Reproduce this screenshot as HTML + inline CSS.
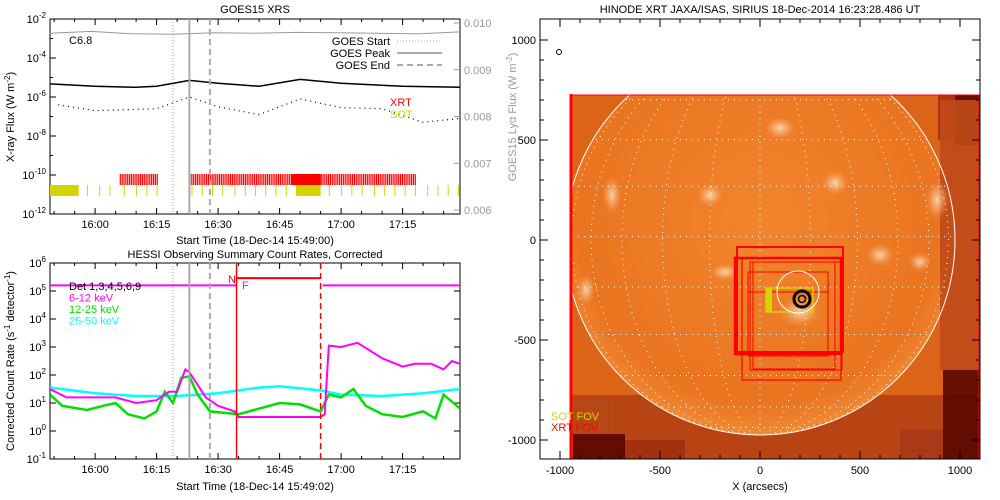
<!DOCTYPE html>
<html><head><meta charset="utf-8"><style>
body{margin:0;background:#fff;}
svg{display:block;font-family:"Liberation Sans",sans-serif;}
text{font-size:11px;}
</style></head><body>
<svg id="c" width="1000" height="500" viewBox="0 0 1000 500">
<defs>
<radialGradient id="disc" cx="50%" cy="45%" r="55%"><stop offset="0" stop-color="#f2852c"/><stop offset="0.85" stop-color="#ea7420"/><stop offset="1" stop-color="#f08a34"/></radialGradient>
<radialGradient id="spot"><stop offset="0" stop-color="#fff0dc"/><stop offset="0.5" stop-color="#f8b880" stop-opacity="0.7"/><stop offset="1" stop-color="#f08a40" stop-opacity="0"/></radialGradient>
<clipPath id="sunclip"><circle cx="760" cy="240" r="195"/></clipPath>
<clipPath id="imgclip"><rect x="570" y="95" width="410" height="364"/></clipPath>
</defs>
<g id="goes"></g>
<g id="hessi"></g>
<g id="xrt"></g>
</svg>
<script>
// ---------- data ----------
const goesTimes = [0, 11, 21, 26, 34, 41, 51, 61, 71, 86, 100]; // minutes after 15:49
const goesLong = [-5.33, -5.45, -5.5, -5.45, -5.15, -5.3, -5.45, -5.1, -5.3, -5.45, -5.5];
const goesShortTimes = [2, 11, 26, 34, 41, 51, 61, 71, 81, 91, 100];
const goesShort = [-6.4, -6.7, -6.6, -6.0, -6.5, -6.9, -6.1, -6.55, -6.6, -7.3, -7.1];
const lyaTimes = [0, 10, 20, 30, 40, 50, 60, 70, 80, 90, 100];
const lyaFlux = [0.00978, 0.00982, 0.00977, 0.00976, 0.00979, 0.00978, 0.00980, 0.00979, 0.00978, 0.00977, 0.00981];
const xrtSegs = [[17, 26], [34, 59], [66, 89]];
const xrtFilled = [[59, 66]];
const sotFilled = [[0, 7], [60, 66]];
const sotTicks = [9, 12, 14.5, 18, 21, 23.5, 26, 34.5, 37, 39.5, 42, 45, 47.5, 50, 52.5, 55, 57.5, 68, 71, 73.5, 76, 79, 81.5, 84, 86.5, 89, 92, 94.5, 97, 99.5];
const goesTickLabels = ["16:00", "16:15", "16:30", "16:45", "17:00", "17:15"];
const goesTickMins = [11, 26, 41, 56, 71, 86];
const eventStart = 30, eventPeak = 34, eventEnd = 39;

const cyanT = [0, 11, 21, 31, 41, 51, 56, 66, 71, 81, 91, 100];
const cyanV = [1.55, 1.35, 1.25, 1.25, 1.35, 1.55, 1.6, 1.45, 1.3, 1.25, 1.35, 1.5];
const magT = [0, 4, 11, 16, 21, 26, 29, 31, 33, 34, 38, 41, 45, 46, 66, 67, 68, 71, 75, 81, 86, 89, 93, 96, 98, 100];
const magV = [1.5, 1.2, 1.2, 1.2, 1.0, 1.1, 1.4, 1.4, 2.2, 2.1, 1.2, 0.9, 0.7, 0.5, 0.5, 0.6, 3.05, 3.0, 3.15, 2.6, 2.3, 2.4, 2.4, 2.2, 2.5, 2.4];
const greenT = [0, 3, 9, 13, 16, 19, 23, 26, 28, 30, 32, 34, 36, 39, 46, 56, 61, 66, 68, 71, 74, 77, 81, 86, 91, 94, 96, 100];
const greenV = [1.3, 0.9, 0.75, 0.9, 1.0, 0.6, 0.45, 0.7, 1.4, 1.0, 1.9, 1.95, 1.3, 0.7, 0.6, 1.0, 0.95, 0.7, 1.3, 1.2, 1.5, 0.9, 0.6, 0.5, 0.7, 0.45, 1.3, 0.8];
const attenT = [45.5, 66];
const hessiFlatLevel = 5.2, attenLevel = 5.46;

// ---------- helpers ----------
const NS = "http://www.w3.org/2000/svg";
function el(parent, tag, attrs, txt) {
  const e = document.createElementNS(NS, tag);
  for (const k in attrs) e.setAttribute(k, attrs[k]);
  if (txt !== undefined) e.textContent = txt;
  parent.appendChild(e);
  return e;
}
const X0 = 50, X1 = 460;
const xm = m => X0 + m * (X1 - X0) / 100;
const yG = l => 19 + (-2 - l) * 19.5;
const yL = f => 23 + (0.010 - f) * 46750;
const yH = l => 459 - (l + 1) * 28;

// ---------- GOES panel ----------
const g = document.getElementById("goes");
let t = el(g, "text", {x: 255, y: 13, "text-anchor": "middle", "font-size": 12});


t.textContent = "GOES15 XRS";
let r = el(g, "rect", {x: 50, y: 19, width: 410, height: 195, fill: "none", stroke: "#000"});


for (let l = -2; l >= -12; l--) {
  el(g, "line", {x1: 50, x2: l % 2 === 0 ? 56 : 53, y1: yG(l), y2: yG(l), stroke: "#000"});
  if (l % 2 === 0) {
    const tt = el(g, "text", {x: 46, y: yG(l) + 4, "text-anchor": "end"});
    
    
    tt.innerHTML = '10<tspan dy="-5" font-size="8">' + l + '</tspan>';
  }
}
for (let i = 0; i <= 4; i++) {
  const f = 0.006 + i * 0.001;
  el(g, "line", {x1: 460, x2: 454, y1: yL(f), y2: yL(f), stroke: "#999"});
  const tt = el(g, "text", {x: 464, y: yL(f) + 4, fill: "#999"}, f.toFixed(3));
  
  
}
let yt = el(g, "text", {x: 0, y: 0, transform: "translate(14,117) rotate(-90)", "text-anchor": "middle"});


yt.innerHTML = 'X-ray Flux (W m<tspan dy="-4" font-size="8">-2</tspan><tspan dy="4">)</tspan>';
let yt2 = el(g, "text", {x: 0, y: 0, transform: "translate(516,117) rotate(-90)", "text-anchor": "middle", fill: "#999"});


yt2.innerHTML = 'GOES15 Lyα Flux (W m<tspan dy="-4" font-size="8">-2</tspan><tspan dy="4">)</tspan>';
function xTicks(par, yb, yTop, label, labY) {
  for (let m = 1; m < 100; m += 5) {
    const big = goesTickMins.includes(m);
    el(par, "line", {x1: xm(m), x2: xm(m), y1: yb, y2: yb - (big ? 6 : 3), stroke: "#000"});
    el(par, "line", {x1: xm(m), x2: xm(m), y1: yTop, y2: yTop + (big ? 6 : 3), stroke: "#000"});
  }
  goesTickLabels.forEach((s, i) => {
    const tt = el(par, "text", {x: xm(goesTickMins[i]), y: yb + 14, "text-anchor": "middle"}, s);
    
    
  });
  const xt = el(par, "text", {x: 255, y: labY, "text-anchor": "middle"}, label);
  
  
}
xTicks(g, 214, 19, "Start Time (18-Dec-14 15:49:00)", 244);
const pts = (T, V, fx, fy) => T.map((m, i) => fx(m).toFixed(1) + "," + fy(V[i]).toFixed(1)).join(" ");
let ly = el(g, "polyline", {points: pts(lyaTimes, lyaFlux, xm, yL), fill: "none", stroke: "#999", "stroke-width": 1});


let gl = el(g, "polyline", {points: pts(goesTimes, goesLong, xm, yG), fill: "none", stroke: "#000", "stroke-width": 1.5});


let gs = el(g, "polyline", {points: pts(goesShortTimes, goesShort, xm, yG), fill: "none", stroke: "#000", "stroke-width": 1.2, "stroke-dasharray": "1 4"});


xrtSegs.forEach(s => {
  for (let m = s[0]; m <= s[1]; m += 0.45) {
    const b = el(g, "rect", {x: xm(m), y: 174, width: 1.2, height: 11, fill: "#ff0000"});
    
    
  }
});
xrtFilled.forEach(s => {
  const b = el(g, "rect", {x: xm(s[0]), y: 174, width: xm(s[1]) - xm(s[0]), height: 11, fill: "#ff0000"});
  
  
});
sotFilled.forEach(s => {
  const b = el(g, "rect", {x: xm(s[0]), y: 185, width: xm(s[1]) - xm(s[0]), height: 11, fill: "#d4d400"});
  
  
});
sotTicks.forEach(m => {
  const b = el(g, "rect", {x: xm(m), y: 185, width: 1, height: 11, fill: "#d4d400"});
  
  
});
function eventLines(par, y0, y1) {
  let a = el(par, "line", {x1: xm(eventStart), x2: xm(eventStart), y1: y0, y2: y1, stroke: "#999", "stroke-dasharray": "1 2"});
   
  let b = el(par, "line", {x1: xm(eventPeak), x2: xm(eventPeak), y1: y0, y2: y1, stroke: "#aaa", "stroke-width": 2});
   
  let c = el(par, "line", {x1: xm(eventEnd), x2: xm(eventEnd), y1: y0, y2: y1, stroke: "#aaa", "stroke-width": 2, "stroke-dasharray": "6 4"});
   
}
eventLines(g, 19, 214);
let cl = el(g, "text", {x: 69, y: 44}, "C6.8");
 
[["GOES Start", "1 2", 1], ["GOES Peak", null, 2], ["GOES End", "6 4", 2]].forEach((e, i) => {
  const yy = 41 + i * 12;
  const lt = el(g, "text", {x: 390, y: yy + 4, "text-anchor": "end"}, e[0]);
   
  const a = {x1: 397, x2: 442, y1: yy, y2: yy, stroke: "#aaa", "stroke-width": e[2]};
  if (e[1]) a["stroke-dasharray"] = e[1];
  const ll = el(g, "line", a);
   
});
let xl = el(g, "text", {x: 390, y: 106, fill: "#ff0000"}, "XRT");
 
let sl = el(g, "text", {x: 390, y: 118, fill: "#d4d400"}, "SOT");
 

// ---------- HESSI panel ----------
const h = document.getElementById("hessi");
t = el(h, "text", {x: 255, y: 258, "text-anchor": "middle", "font-size": 12}, "HESSI Observing Summary Count Rates, Corrected");
 
r = el(h, "rect", {x: 50, y: 263, width: 410, height: 196, fill: "none", stroke: "#000"});
 
for (let l = 6; l >= -1; l--) {
  el(h, "line", {x1: 50, x2: 56, y1: yH(l), y2: yH(l), stroke: "#000"});
  el(h, "line", {x1: 460, x2: 454, y1: yH(l), y2: yH(l), stroke: "#000"});
  const tt = el(h, "text", {x: 46, y: yH(l) + 4, "text-anchor": "end"});
   
  tt.innerHTML = '10<tspan dy="-5" font-size="8">' + l + '</tspan>';
}
yt = el(h, "text", {x: 0, y: 0, transform: "translate(14,361) rotate(-90)", "text-anchor": "middle"});
 
yt.innerHTML = 'Corrected Count Rate (s<tspan dy="-4" font-size="8">-1</tspan><tspan dy="4"> detector</tspan><tspan dy="-4" font-size="8">-1</tspan><tspan dy="4">)</tspan>';
xTicks(h, 459, 263, "Start Time (18-Dec-14 15:49:02)", 490);
const hClip = el(h, "clipPath", {id: "hclip"});
el(hClip, "rect", {x: 50, y: 263, width: 410, height: 196});
const hg = el(h, "g", {"clip-path": "url(#hclip)"});
let s1 = el(hg, "polyline", {points: pts(cyanT, cyanV, xm, yH), fill: "none", stroke: "#00ffff", "stroke-width": 2.5});
 
let s2 = el(hg, "polyline", {points: pts(greenT, greenV, xm, yH), fill: "none", stroke: "#00e000", "stroke-width": 2.5});
 
let s3 = el(hg, "polyline", {points: pts(magT, magV, xm, yH), fill: "none", stroke: "#ff00ff", "stroke-width": 2});
 
let f1 = el(hg, "line", {x1: 50, x2: xm(attenT[0]), y1: yH(hessiFlatLevel), y2: yH(hessiFlatLevel), stroke: "#ff00ff", "stroke-width": 2});
 
let f2 = el(hg, "line", {x1: xm(attenT[1]) + 2, x2: 460, y1: yH(hessiFlatLevel), y2: yH(hessiFlatLevel), stroke: "#ff00ff", "stroke-width": 2});
 
eventLines(h, 263, 459);
let n1 = el(h, "line", {x1: xm(attenT[0]), x2: xm(attenT[1]), y1: yH(attenLevel), y2: yH(attenLevel), stroke: "#ff0000", "stroke-width": 2});
 
let v1 = el(h, "line", {x1: xm(attenT[0]), x2: xm(attenT[0]), y1: 263, y2: 459, stroke: "#ff0000", "stroke-width": 1.5});
 
let v2 = el(h, "line", {x1: xm(attenT[1]), x2: xm(attenT[1]), y1: 263, y2: 459, stroke: "#ff0000", "stroke-width": 1.5, "stroke-dasharray": "6 4"});
 
let nl = el(h, "text", {x: 228, y: 283, fill: "#ff0000"}, "N");
 
let fl = el(h, "text", {x: 242, y: 289, fill: "#ff00ff"}, "F");
 
[["Det 1,3,4,5,6,9", "#000"], ["6-12 keV", "#ff00ff"], ["12-25 keV", "#00e000"], ["25-50 keV", "#00ffff"]].forEach((e, i) => {
  const tt = el(h, "text", {x: 69, y: 290 + i * 11.5, fill: e[1]}, e[0]);
   
});

// ---------- XRT image panel ----------
const x = document.getElementById("xrt");
t = el(x, "text", {x: 760, y: 13, "text-anchor": "middle", "font-size": 12}, "HINODE XRT JAXA/ISAS, SIRIUS 18-Dec-2014 16:23:28.486 UT");
 
const ax = a => 760 + a * 0.2, ay = a => 240 - a * 0.2;
const im = el(x, "g", {"clip-path": "url(#imgclip)"});
 
el(im, "rect", {x: 570, y: 95, width: 410, height: 364, fill: "#dc6418"});
el(im, "rect", {x: 570, y: 395, width: 410, height: 64, fill: "#b84414"});
el(im, "circle", {cx: 760, cy: 240, r: 195, fill: "url(#disc)"});
[[955, 95, 25, 50, "#5a0800"], [938, 95, 17, 45, "#a83010"], [943, 370, 37, 89, "#5a0800"], [573, 434, 52, 25, "#5a0800"], [625, 440, 60, 19, "#a03010"], [900, 430, 43, 29, "#a83818"], [573, 400, 40, 34, "#b84818"], [940, 100, 40, 270, "#c04a18"]].forEach(b => {
  const q = el(im, "rect", {x: b[0], y: b[1], width: b[2], height: b[3], fill: b[4], opacity: 0.9});
   
});
[[780, 128, 16, 12], [710, 195, 14, 12], [835, 183, 14, 13], [612, 195, 10, 20], [937, 200, 12, 20], [725, 272, 16, 9], [586, 290, 10, 16], [800, 312, 22, 16], [880, 255, 15, 12], [920, 262, 12, 10]].forEach(s => {
  const q = el(im, "ellipse", {cx: s[0], cy: s[1], rx: s[2], ry: s[3], fill: "url(#spot)", opacity: 0.75});
   
});
const gridG = el(im, "g", {"clip-path": "url(#sunclip)", stroke: "#fff", fill: "none", "stroke-width": 1, "stroke-dasharray": "1 5"});
 
for (let lat = -75; lat <= 75; lat += 15) {
  const yy = 240 - 195 * Math.sin((lat + 1) * Math.PI / 180);
  el(gridG, "line", {x1: 560, x2: 960, y1: yy, y2: yy});
}
for (let lon = -75; lon <= 75; lon += 15) {
  const rx = Math.abs(195 * Math.sin(lon * Math.PI / 180));
  if (rx < 1) el(gridG, "line", {x1: 760, x2: 760, y1: 40, y2: 440});
  else el(gridG, "path", {d: `M760,45 A${rx},195 0 0 ${lon > 0 ? 1 : 0} 760,435`});
}
let limb = el(im, "circle", {cx: 760, cy: 240, r: 195, fill: "none", stroke: "#fff", "stroke-width": 1});
 
[[737, 247, 106, 105, 2], [735, 258, 106, 96, 2.5], [748, 272, 80, 84, 1], [750, 262, 92, 108, 1], [753, 262, 82, 107, 1], [742, 258, 99, 122, 1.2], [748, 292, 80, 60, 1]].forEach(b => {
  const q = el(x, "rect", {x: b[0], y: b[1], width: b[2], height: b[3], fill: "none", stroke: "#ff0000", "stroke-width": b[4]});
   
});
let sb = el(x, "rect", {x: 766, y: 288, width: 47, height: 24, fill: "none", stroke: "#d4d400", "stroke-width": 1.5});
 
let sbf = el(x, "rect", {x: 766, y: 288, width: 6, height: 24, fill: "#d4d400"});
 
let fc = el(x, "circle", {cx: 798, cy: 292, r: 21, fill: "none", stroke: "#fff", "stroke-width": 1});
 
let bc = el(x, "circle", {cx: 802, cy: 299, r: 8, fill: "none", stroke: "#000", "stroke-width": 3});
 
el(x, "circle", {cx: 802, cy: 299, r: 3.5, fill: "none", stroke: "#000", "stroke-width": 1.5});
let xv = el(x, "line", {x1: 571, x2: 571, y1: 94, y2: 459, stroke: "#ff0000", "stroke-width": 3});
 
let xh = el(x, "line", {x1: 570, x2: 980, y1: 95, y2: 95, stroke: "#ff0000", "stroke-width": 1});
 
el(x, "line", {x1: 979, x2: 979, y1: 95, y2: 459, stroke: "#ff0000", "stroke-width": 1});
el(x, "circle", {cx: 559, cy: 52, r: 2.5, fill: "none", stroke: "#000"});
let sf = el(x, "text", {x: 551, y: 420, fill: "#d4d400"}, "SOT FOV");
 
let xf = el(x, "text", {x: 551, y: 431, fill: "#ff0000"}, "XRT FOV");
 
r = el(x, "rect", {x: 540, y: 19, width: 440, height: 440, fill: "none", stroke: "#000"});
 
for (let a = -1000; a <= 1000; a += 100) {
  const big = a % 500 === 0;
  el(x, "line", {x1: ax(a), x2: ax(a), y1: 459, y2: 459 - (big ? 8 : 4), stroke: "#000"});
  el(x, "line", {x1: ax(a), x2: ax(a), y1: 19, y2: 19 + (big ? 8 : 4), stroke: "#000"});
  el(x, "line", {x1: 540, x2: 540 + (big ? 8 : 4), y1: ay(a), y2: ay(a), stroke: "#000"});
  el(x, "line", {x1: 980, x2: 980 - (big ? 8 : 4), y1: ay(a), y2: ay(a), stroke: "#000"});
  if (big) {
    const tx = el(x, "text", {x: ax(a), y: 474, "text-anchor": "middle"}, String(a));
     
    const ty = el(x, "text", {x: 536, y: ay(a) + 4, "text-anchor": "end"}, String(a));
     
  }
}
let xa = el(x, "text", {x: 760, y: 490, "text-anchor": "middle"}, "X (arcsecs)");
 
</script>
</body></html>
